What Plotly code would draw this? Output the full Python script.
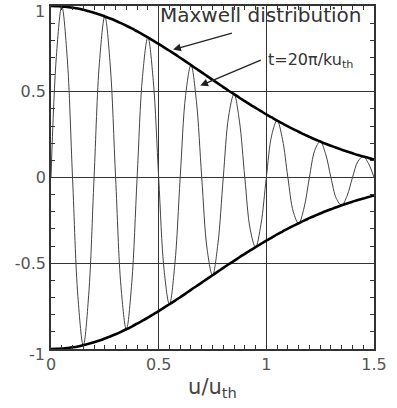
import plotly.graph_objects as go

# u/u_th sample positions (every 0.025)
u = [round(i * 0.025, 3) for i in range(61)]

# Maxwell envelope
envelope = [1.000, 0.999, 0.998, 0.994, 0.990, 0.985, 0.978, 0.970, 0.961, 0.951,
            0.939, 0.927, 0.914, 0.900, 0.885, 0.869, 0.852, 0.835, 0.817, 0.798,
            0.779, 0.759, 0.739, 0.719, 0.698, 0.677, 0.655, 0.634, 0.613, 0.591,
            0.570, 0.549, 0.527, 0.506, 0.486, 0.465, 0.445, 0.425, 0.406, 0.387,
            0.368, 0.350, 0.332, 0.315, 0.298, 0.282, 0.267, 0.251, 0.237, 0.223,
            0.210, 0.197, 0.185, 0.173, 0.162, 0.151, 0.141, 0.131, 0.122, 0.114,
            0.105]
lower_envelope = [-v for v in envelope]

# oscillating distribution at t = 20π/(k u_th)
oscillation = [0.000, 0.707, 0.998, 0.703, 0.000, -0.696, -0.978, -0.686, 0.000, 0.672,
               0.939, 0.656, 0.000, -0.636, -0.885, -0.614, 0.000, 0.590, 0.817, 0.564,
               0.000, -0.537, -0.739, -0.508, 0.000, 0.478, 0.655, 0.448, 0.000, -0.418,
               -0.570, -0.388, 0.000, 0.358, 0.486, 0.329, 0.000, -0.301, -0.406, -0.273,
               0.000, 0.247, 0.332, 0.223, 0.000, -0.199, -0.267, -0.178, 0.000, 0.158,
               0.210, 0.139, 0.000, -0.122, -0.162, -0.107, 0.000, 0.093, 0.122, 0.080,
               0.000]

x_tickvals = [0, 0.5, 1, 1.5]
x_ticktext = ["0", "0.5", "1", "1.5"]
y_tickvals = [-0.5, 0, 0.5]
y_ticktext = ["-0.5", "0", "0.5"]
y_end_vals = [1, -1]
y_end_text = ["1", "-1"]

FONT = "DejaVu Sans"
TICKCOL = "#555555"
fig = go.Figure()
fig.add_trace(go.Scatter(x=u, y=oscillation, mode="lines",
                         line=dict(color="#444444", width=1, shape="spline", smoothing=1.0),
                         showlegend=False, hoverinfo="skip"))
fig.add_trace(go.Scatter(x=u, y=envelope, mode="lines",
                         line=dict(color="black", width=2.6, shape="spline"),
                         showlegend=False, hoverinfo="skip"))
fig.add_trace(go.Scatter(x=u, y=lower_envelope, mode="lines",
                         line=dict(color="black", width=2.6, shape="spline"),
                         showlegend=False, hoverinfo="skip"))

axis_common = dict(showline=True, linecolor="#333333", linewidth=1.5, mirror="ticks",
                   ticks="inside", ticklen=5, tickcolor="#333333", automargin=False,
                   showgrid=True, gridcolor="#333333", gridwidth=1, zeroline=False,
                   ticklabeloverflow="allow",
                   tickfont=dict(family=FONT, size=16, color=TICKCOL))

fig.update_xaxes(range=[0, 1.5], tickvals=x_tickvals, ticktext=x_ticktext,
                 minor=dict(dtick=0.05, ticks="inside", ticklen=4, tickcolor="#333333", showgrid=False),
                 title=dict(text="u/u<sub>th</sub>", font=dict(family=FONT, size=21, color="#444444"),
                            standoff=6),
                 **axis_common)
fig.update_yaxes(range=[-1, 1], tickvals=y_tickvals, ticktext=y_ticktext,
                 minor=dict(dtick=0.1, ticks="inside", ticklen=4, tickcolor="#333333", showgrid=False),
                 **axis_common)

# end labels of the y axis, nudged inward as in the reference
for val, txt, shift in zip(y_end_vals, y_end_text, [-5, -5]):
    fig.add_annotation(x=0, y=val, xref="paper", yref="y", text=txt, showarrow=False,
                       xanchor="right", yanchor="middle", xshift=-4, yshift=shift,
                       font=dict(family=FONT, size=16, color=TICKCOL))

fig.add_annotation(x=0.516, y=0.95, xref="x", yref="y", text="Maxwell distribution",
                   showarrow=False, xanchor="left", yanchor="middle", xshift=-4,
                   font=dict(family=FONT, size=20, color="#333333"))
fig.add_annotation(x=1.014, y=0.68, xref="x", yref="y", text="t=20π/ku<sub>th</sub>",
                   showarrow=False, xanchor="left", yanchor="middle", xshift=-3,
                   font=dict(family=FONT, size=16, color="#333333"))
fig.add_annotation(x=0.567, y=0.746, ax=0.847, ay=0.845, xref="x", yref="y", axref="x", ayref="y",
                   text="", showarrow=True, arrowhead=2, arrowsize=1.2, arrowwidth=1.3, arrowcolor="#222222")
fig.add_annotation(x=0.693, y=0.536, ax=0.981, ay=0.688, xref="x", yref="y", axref="x", ayref="y",
                   text="", showarrow=True, arrowhead=2, arrowsize=1.2, arrowwidth=1.3, arrowcolor="#222222")

fig.update_layout(width=397, height=408, margin=dict(l=51, r=23, t=6, b=59, autoexpand=False),
                  plot_bgcolor="white", paper_bgcolor="white")
fig.write_html("out.html", config={"displayModeBar": False},
               post_script="document.body.style.margin='0';")
